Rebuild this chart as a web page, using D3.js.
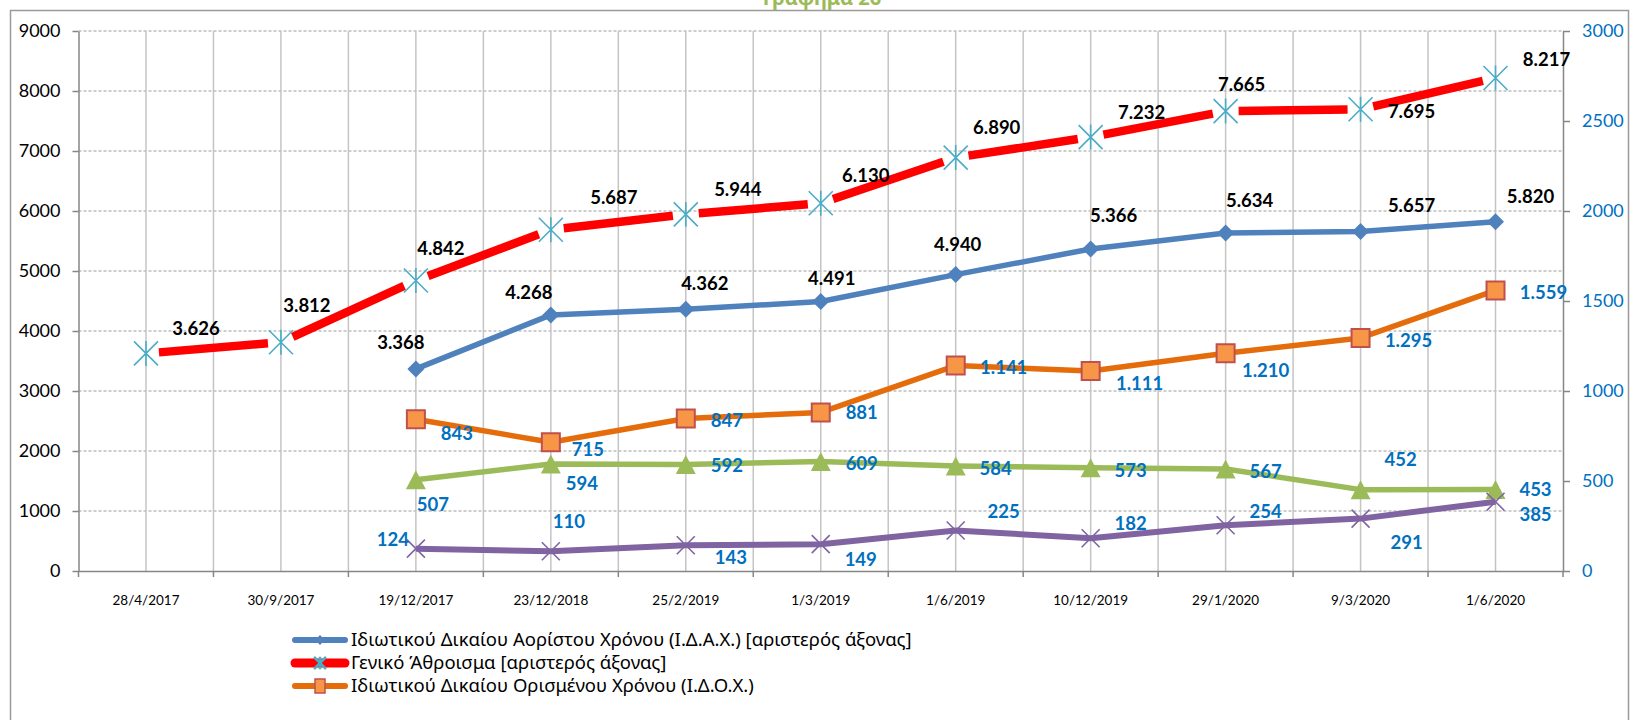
<!DOCTYPE html>
<html>
<head>
<meta charset="utf-8">
<script src="https://cdn.jsdelivr.net/npm/d3@7"></script>
<style>
  body { margin: 0; background: #fff; }
  svg { display: block; font-family: Lato, "Noto Sans", sans-serif; }
</style>
</head>
<body>
<div id="chart"></div>
<script>
/* ------- DATA -------*/
var categories = ["28/4/2017", "30/9/2017", "19/12/2017", "23/12/2018", "25/2/2019", "1/3/2019",
  "1/6/2019", "10/12/2019", "29/1/2020", "9/3/2020", "1/6/2020"]

var idaxValues = [null, null, 3368, 4268, 4362, 4491, 4940, 5366, 5634, 5657, 5820]
var totalValues = [3626, 3812, 4842, 5687, 5944, 6130, 6890, 7232, 7665, 7695, 8217]
var idoxValues = [null, null, 843, 715, 847, 881, 1141, 1111, 1210, 1295, 1559]
var triangleValues = [null, null, 507, 594, 592, 609, 584, 573, 567, 452, 453]
var crossValues = [null, null, 124, 110, 143, 149, 225, 182, 254, 291, 385]

var leftTicks = [0, 1000, 2000, 3000, 4000, 5000, 6000, 7000, 8000, 9000]
var rightTicks = [0, 500, 1000, 1500, 2000, 2500, 3000]

var titleText = "Γράφημα 26"
var idaxName = "Ιδιωτικού Δικαίου Αορίστου Χρόνου (Ι.Δ.Α.Χ.) [αριστερός άξονας]"
var totalName = "Γενικό Άθροισμα [αριστερός άξονας]"
var idoxName = "Ιδιωτικού Δικαίου Ορισμένου Χρόνου (Ι.Δ.Ο.Χ.)"

/* ------- LABEL NUDGES (px from the marker) -------*/
var idaxLabelPos = [null, null, [-15, -27], [-22, -23], [19, -26], [11, -23], [2, -30], [23, -34], [24, -33], [51, -26], [35, -25]]
var totalLabelPos = [[50, -25], [26, -37], [25, -32], [63, -32], [52, -25], [45, -28], [41, -30], [51, -25], [16, -27], [51, 2], [51, -19]]
var idoxLabelPos = [null, null, [41, 14], [37, 7], [41, 2], [41, 0], [48, 2], [49, 12], [40, 17], [48, 2], [48, 2]]
var triangleLabelPos = [null, null, [17, 25], [31, 19], [41, 1], [41, 2], [40, 2], [40, 2], [40, 2], [40, -30], [40, 0]]
var crossLabelPos = [null, null, [-23, -9], [18, -30], [45, 12], [40, 15], [48, -19], [40, -15], [40, -14], [46, 24], [40, 13]]

var width = 1630,
  height = 720,
  plot = { left: 78.5, right: 1563, top: 31, bottom: 571 }

var svg = d3
  .select("#chart")
  .append("svg")
  .attr("width", width)
  .attr("height", height)

var x = d3.scaleBand().domain(categories).range([plot.left, plot.right])
var half = x.bandwidth() / 2
var yLeft = d3.scaleLinear().domain([0, 9000]).range([plot.bottom, plot.top])
var yRight = d3.scaleLinear().domain([0, 3000]).range([plot.bottom, plot.top])

var greek = d3.formatLocale({ decimal: ",", thousands: ".", grouping: [3], currency: ["€", ""] })
var fmt = greek.format(",d")

var series = [
  { name: idaxName, values: idaxValues, y: yLeft, color: "#4F81BD", lw: 5.5, marker: "diamond",
    fill: "#4F81BD", stroke: "none", labelColor: "#000", labelPos: idaxLabelPos, gap: 0 },
  { name: totalName, values: totalValues, y: yLeft, color: "#FF0000", lw: 8.5, marker: "star",
    fill: "none", stroke: "#4BACC6", labelColor: "#000", labelPos: totalLabelPos, gap: 13 },
  { name: idoxName, values: idoxValues, y: yRight, color: "#E46C0A", lw: 5.5, marker: "square",
    fill: "#F79646", stroke: "#C0504D", labelColor: "#0070C0", labelPos: idoxLabelPos, gap: 0 },
  { name: "", values: triangleValues, y: yRight, color: "#9BBB59", lw: 5.5, marker: "triangle",
    fill: "#9BBB59", stroke: "none", labelColor: "#0070C0", labelPos: triangleLabelPos, gap: 0 },
  { name: "", values: crossValues, y: yRight, color: "#8064A2", lw: 6, marker: "cross",
    fill: "none", stroke: "#8064A2", labelColor: "#0070C0", labelPos: crossLabelPos, gap: 0 }
]

function markerPath(type, s) {
  if (type == "diamond") return "M0," + -s + "L" + s + ",0L0," + s + "L" + -s + ",0Z"
  if (type == "square") return "M" + -s + "," + -s + "H" + s + "V" + s + "H" + -s + "Z"
  if (type == "triangle") return "M0," + -s + "L" + s * 1.05 + "," + s + "L" + -s * 1.05 + "," + s + "Z"
  if (type == "cross") return "M" + -s + "," + -s + "L" + s + "," + s + "M" + -s + "," + s + "L" + s + "," + -s
  // star = cross plus vertical bar
  return "M" + -s + "," + -s + "L" + s + "," + s + "M" + -s + "," + s + "L" + s + "," + -s + "M0," + -s * 1.04 + "V" + s * 1.04
}
var markerSize = { diamond: 8.5, star: 12, square: 9, triangle: 9.5, cross: 9 }

/* ------- FRAME & TITLE -------*/
svg.append("rect")
  .attr("x", 10.5).attr("y", 10.5)
  .attr("width", 1618).attr("height", 730)
  .attr("fill", "none").attr("stroke", "#9a9a9a").attr("stroke-width", 1.5)

// the title sits above the frame and is clipped by the top edge, as in the source
svg.append("text")
  .attr("x", 822).attr("y", 5)
  .attr("text-anchor", "middle")
  .style("font-family", "'Noto Sans', sans-serif")
  .style("font-size", "20px").style("font-weight", "bold")
  .attr("fill", "#9BBB59")
  .text(titleText)

/* ------- GRID -------*/
var grid = svg.append("g").attr("class", "grid")

grid.selectAll("line.h")
  .data(leftTicks.filter(function(d) { return d > 0 }))
  .enter().append("line")
  .attr("class", "h")
  .attr("x1", plot.left).attr("x2", plot.right)
  .attr("y1", function(d) { return yLeft(d) }).attr("y2", function(d) { return yLeft(d) })
  .attr("stroke", "#9c9c9c").attr("stroke-width", 1).attr("stroke-dasharray", "3,2")

var vx = []
categories.forEach(function(c, i) {
  if (i > 0) vx.push(x(c))
  vx.push(x(c) + half)
})
grid.selectAll("line.v")
  .data(vx)
  .enter().append("line")
  .attr("class", "v")
  .attr("x1", function(d) { return d }).attr("x2", function(d) { return d })
  .attr("y1", plot.top).attr("y2", plot.bottom)
  .attr("stroke", "#c4c4c4").attr("stroke-width", 1.5)

/* ------- AXES -------*/
function styleAxis(g, textColor, size) {
  g.select(".domain").attr("stroke", "#868686").attr("stroke-width", 1.5)
  g.selectAll(".tick line").attr("stroke", "#868686").attr("stroke-width", 1.5)
  g.selectAll("text").attr("fill", textColor).style("font-size", size + "px").style("font-family", "Lato, sans-serif")
}

svg.append("g")
  .attr("transform", "translate(" + plot.left + ",0)")
  .call(d3.axisLeft(yLeft).tickValues(leftTicks).tickSize(6).tickSizeOuter(0).tickPadding(12).tickFormat(d3.format("d")))
  .call(styleAxis, "#000", 18)

svg.append("g")
  .attr("transform", "translate(" + plot.right + ",0)")
  .call(d3.axisRight(yRight).tickValues(rightTicks).tickSize(7).tickSizeOuter(0).tickPadding(12).tickFormat(d3.format("d")))
  .call(styleAxis, "#0070C0", 18)

var xAxis = svg.append("g")
  .attr("transform", "translate(0," + plot.bottom + ")")
  .call(d3.axisBottom(x).tickSize(0).tickSizeOuter(0).tickPadding(24))
  .call(styleAxis, "#000", 13.5)

xAxis.selectAll("line.bound")
  .data(categories.map(function(c) { return x(c) }).concat([plot.right]))
  .enter().append("line")
  .attr("class", "bound")
  .attr("x1", function(d) { return d }).attr("x2", function(d) { return d })
  .attr("y1", 0).attr("y2", 6)
  .attr("stroke", "#868686").attr("stroke-width", 1.5)

/* ------- SERIES -------*/
function points(s) {
  return s.values.map(function(v, i) {
    return v == null ? null : { x: x(categories[i]) + half, y: s.y(v), v: v, i: i }
  })
}

var lines = svg.append("g").attr("class", "series")

series.forEach(function(s) {
  var pts = points(s)
  var g = lines.append("g")

  if (s.gap > 0) {
    var segs = []
    for (var i = 0; i < pts.length - 1; i++) {
      if (!pts[i] || !pts[i + 1]) continue
      var dx = pts[i + 1].x - pts[i].x, dy = pts[i + 1].y - pts[i].y
      var len = Math.sqrt(dx * dx + dy * dy)
      var ux = dx / len, uy = dy / len
      segs.push([pts[i].x + ux * s.gap, pts[i].y + uy * s.gap, pts[i + 1].x - ux * s.gap, pts[i + 1].y - uy * s.gap])
    }
    g.selectAll("line")
      .data(segs)
      .enter().append("line")
      .attr("x1", function(d) { return d[0] }).attr("y1", function(d) { return d[1] })
      .attr("x2", function(d) { return d[2] }).attr("y2", function(d) { return d[3] })
      .attr("stroke", s.color).attr("stroke-width", s.lw)
  } else {
    var line = d3.line()
      .defined(function(d) { return d != null })
      .x(function(d) { return d.x })
      .y(function(d) { return d.y })
    g.append("path")
      .attr("d", line(pts))
      .attr("fill", "none")
      .attr("stroke", s.color)
      .attr("stroke-width", s.lw)
      .attr("stroke-linejoin", "round")
  }

  g.selectAll("path.marker")
    .data(pts.filter(function(d) { return d != null }))
    .enter().append("path")
    .attr("class", "marker")
    .attr("transform", function(d) { return "translate(" + d.x + "," + d.y + ")" })
    .attr("d", markerPath(s.marker, markerSize[s.marker]))
    .attr("fill", s.fill)
    .attr("stroke", s.stroke)
    .attr("stroke-width", s.marker == "square" ? 2 : 1.6)
})

/* ------- DATA LABELS -------*/
var labels = svg.append("g").attr("class", "labels")

series.forEach(function(s) {
  labels.append("g")
    .selectAll("text")
    .data(points(s).filter(function(d) { return d != null }))
    .enter().append("text")
    .attr("x", function(d) { return d.x + s.labelPos[d.i][0] })
    .attr("y", function(d) { return d.y + s.labelPos[d.i][1] })
    .attr("dy", "0.36em")
    .attr("text-anchor", "middle")
    .style("font-size", "18.5px")
    .style("font-weight", "bold")
    .attr("fill", s.labelColor)
    .text(function(d) { return fmt(d.v) })
})

/* ------- LEGEND -------*/
var legendRows = [series[0], series[1], series[2]]
var legend = svg.append("g").attr("class", "legend")

var item = legend.selectAll("g")
  .data(legendRows)
  .enter().append("g")
  .attr("transform", function(d, i) { return "translate(292," + (640 + i * 23) + ")" })

item.append("line")
  .attr("x1", 3).attr("x2", 53)
  .attr("stroke", function(d) { return d.color })
  .attr("stroke-width", function(d) { return d.lw + 0.5 })
  .attr("stroke-linecap", "round")

item.append("path")
  .attr("transform", "translate(28,0)")
  .attr("d", function(d) {
    if (d.marker == "square") return "M-5,-7H5V7H-5Z"
    return markerPath(d.marker, d.marker == "star" ? 6 : 5)
  })
  .attr("fill", function(d) { return d.fill })
  .attr("stroke", function(d) { return d.stroke })
  .attr("stroke-width", function(d) { return d.marker == "star" ? 2.5 : 1.5 })

item.append("text")
  .attr("x", 59)
  .attr("dy", "0.35em")
  .style("font-family", "'Noto Sans', sans-serif")
  .style("font-size", "18.5px")
  .attr("fill", "#000")
  .text(function(d) { return d.name })
</script>
</body>
</html>
